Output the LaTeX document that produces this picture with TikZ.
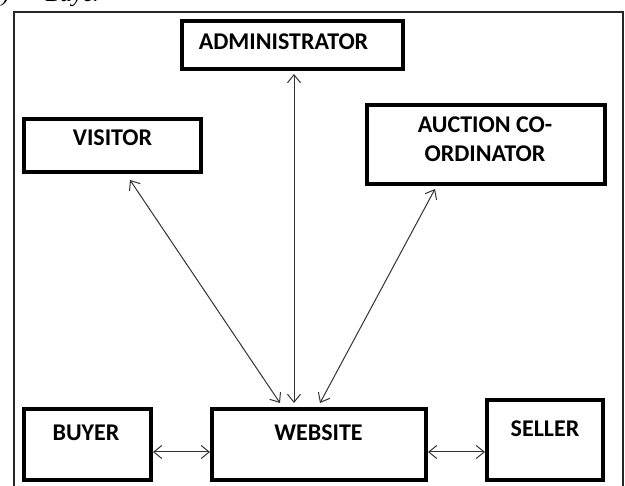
\documentclass[tikz,border=0pt]{standalone}
\usepackage{fontspec}
\setmainfont{Carlito}
\newfontfamily\headfont{Liberation Serif}
\usetikzlibrary{arrows.meta}
\begin{document}
\begin{tikzpicture}[x=1pt,y=-1pt,>={Straight Barb[length=8pt,width=13pt]}]
\tikzstyle{every node}+=[inner sep=0pt]
\tikzstyle{blk}=[draw=black, line width=4pt]
\tikzstyle{lbl}=[font=\fontsize{24}{29}\selectfont\bfseries, text=black, align=center]
\tikzstyle{link}=[draw=black!80, line width=1pt, <->]
\useasboundingbox (0,0) rectangle (625,486);
\fill [white] (0,0) rectangle (625,486);
\node [font=\headfont\itshape\fontsize{24}{28}\selectfont, anchor=base east] (head) at (103,2) {5)\hspace{36pt}Buyer};
\draw [black!85, line width=1.5pt] (14,12) rectangle (623,500);
\node [blk, minimum width=221pt, minimum height=48pt] (admin) at (292.5,45) {};
\node [lbl] (admin-t) at ([xshift=-9pt,yshift=-23pt]admin.north) {ADMINISTRATOR};
\node [blk, minimum width=177pt, minimum height=53pt] (visitor) at (112.5,145.5) {};
\node [lbl] (visitor-t) at ([yshift=-21pt]visitor.north) {VISITOR};
\node [blk, minimum width=238pt, minimum height=79pt] (coord) at (486,144.5) {};
\node [lbl] (coord-t) at ([xshift=-1pt,yshift=-36.5pt]coord.north) {AUCTION CO-\\ORDINATOR};
\node [blk, minimum width=127pt, minimum height=71pt] (buyer) at (87.5,444.5) {};
\node [lbl] (buyer-t) at ([xshift=-1.5pt,yshift=-26pt]buyer.north) {BUYER};
\node [blk, minimum width=214pt, minimum height=71pt] (website) at (319,444.5) {};
\node [lbl] (website-t) at ([xshift=-0.5pt,yshift=-26pt]website.north) {WEBSITE};
\node [blk, minimum width=116pt, minimum height=80pt] (seller) at (545,440) {};
\node [lbl] (seller-t) at ([yshift=-31pt]seller.north) {SELLER};
\draw [link] ([xshift=17.5pt,yshift=-6pt]visitor.south) -- ([xshift=-39pt,yshift=4pt]website.north);
\draw [link] ([xshift=1.5pt,yshift=-3pt]admin.south) -- ([xshift=-25pt,yshift=4pt]website.north);
\draw [link] ([xshift=-51pt,yshift=-3pt]coord.south) -- ([xshift=1pt,yshift=4pt]website.north);
\draw [link] ([yshift=-7.5pt]buyer.east) -- ([yshift=-7.5pt]website.west);
\draw [link] ([yshift=-7.5pt]website.east) -- ([yshift=-7.5pt]website.east -| seller.west);
\end{tikzpicture}
\end{document}
